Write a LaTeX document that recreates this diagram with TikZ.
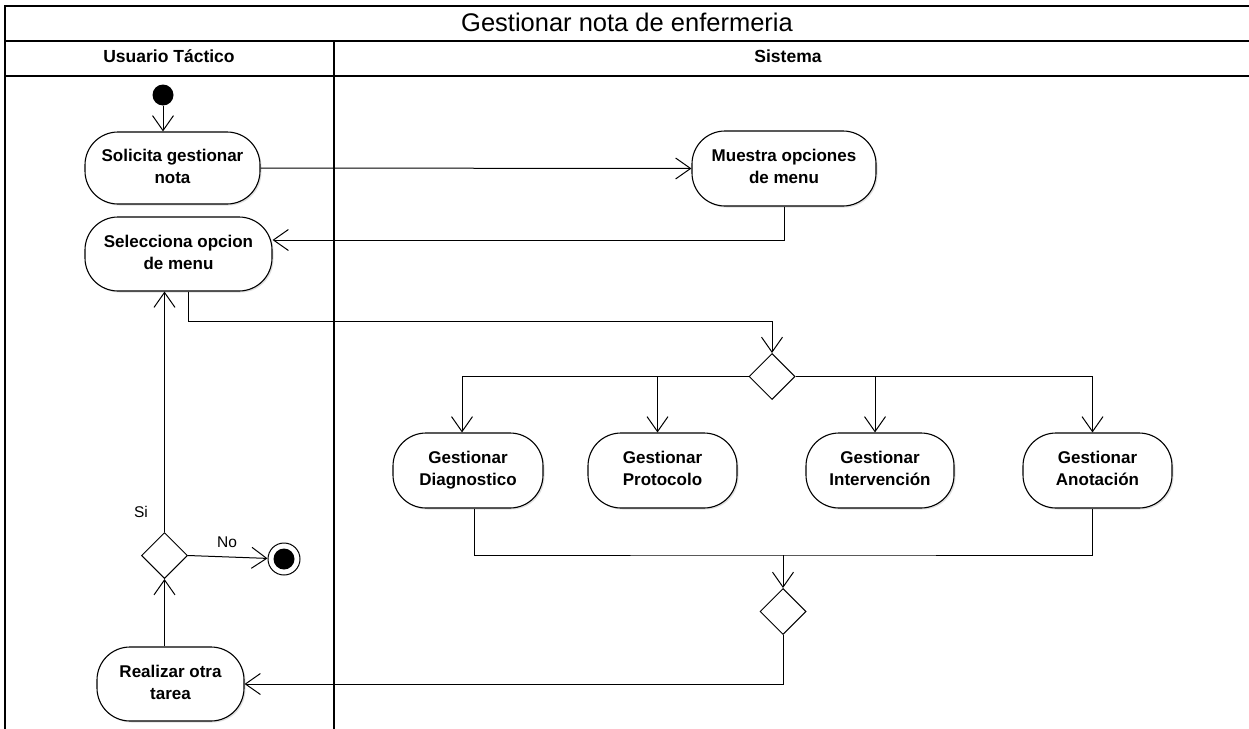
\documentclass[tikz,border=0pt]{standalone}
\usepackage{fontspec}
\setmainfont{Liberation Sans}
\usetikzlibrary{arrows.meta,shapes.geometric,calc,shadows}
\begin{document}
\begin{tikzpicture}[x=1pt,y=-1pt,
  act/.style={draw, line width=1.1pt, rounded corners=33pt, fill=white, align=center,
    inner sep=0pt, font=\fontsize{17}{22}\selectfont\bfseries,
    drop shadow={shadow xshift=1.5pt,shadow yshift=-1.5pt,opacity=0.25}},
  dec/.style={draw, diamond, line width=1pt, fill=white, minimum width=46pt, minimum height=46pt, inner sep=0pt},
  arr/.style={line width=1pt, -{Straight Barb[length=15pt,width=21pt]}},
  ln/.style={line width=1pt},
  lbl/.style={font=\fontsize{15.5}{18}\selectfont},
  hdr/.style={font=\fontsize{17.5}{20}\selectfont\bfseries},
  frame/.style={line width=1.6pt}
]
\useasboundingbox (0,0) rectangle (1249,728);
\clip (0,0) rectangle (1249,728);
\fill[white] (0,0) rectangle (1249,728);

% frame and swimlanes
\draw[frame] (1260,6) -- (5,6) -- (5,740);
\draw[line width=2.6pt] (5,41) -- (1260,41);
\draw[frame] (5,76) -- (1260,76);
\draw[frame] (334,41) -- (334,740);

\node[font=\fontsize{25.5}{30}\selectfont, anchor=base] (title) at (627,31) {Gestionar nota de enfermeria};
\node[hdr, anchor=base] (lane1) at (169,62) {Usuario Táctico};
\node[hdr, anchor=base] (lane2) at (788,62) {Sistema};

% nodes
\node[circle, fill=black, minimum size=21pt, inner sep=0pt] (start) at (163,95) {};
\node[act, minimum width=175pt, minimum height=72pt] (sol) at (172.5,168) {\strut Solicita gestionar\\\strut nota};
\node[act, minimum width=184pt, minimum height=75pt] (mue) at (784,168.5) {\strut Muestra opciones\\\strut de menu};
\node[act, minimum width=187pt, minimum height=74pt] (sel) at (178.5,254) {\strut Selecciona opcion\\\strut de menu};
\node[dec] (d1) at (772,376.5) {};
\node[act, minimum width=150pt, minimum height=75pt] (diag) at (468,470.5) {\strut Gestionar\\\strut Diagnostico};
\node[act, minimum width=149pt, minimum height=75pt] (proto) at (662.5,470.5) {\strut Gestionar\\\strut Protocolo};
\node[act, minimum width=148pt, minimum height=75pt] (interv) at (880,470.5) {\strut Gestionar\\\strut Intervención};
\node[act, minimum width=149pt, minimum height=75pt] (anot) at (1097.5,470.5) {\strut Gestionar\\\strut Anotación};
\node[dec] (d2) at (783,611.5) {};
\node[act, minimum width=147pt, minimum height=74pt] (real) at (170.5,684) {\strut Realizar otra\\\strut tarea};
\node[dec] (d3) at (164.5,555.5) {};
\node[circle, draw, line width=1pt, fill=white, minimum size=32pt, inner sep=0pt] (fin) at (284,559) {};
\fill (fin.center) circle (10.5);

\node[lbl] (si) at (141,512) {Si};
\node[lbl] (no) at (227,542) {No};

% connectors
\draw[arr] (start) -- (start |- sol.north);
\draw[arr] (sol.east) -- (mue.west);
\draw[arr] (mue.south) |- ($(sel.east)+(0,-14)$);
\coordinate (selout) at ($(sel.south)+(10,0)$);
\draw[arr] (selout) -- ++(0,30) -| (d1.north);
\draw[arr] (d1.west) -| ($(diag.north)+(-6,0)$);
\draw[arr] ($(d1.west)+(-90,0)$) -| ($(proto.north)+(-5,0)$);
\draw[arr] (d1.east) -| ($(anot.north)+(-5,0)$);
\draw[arr] ($(d1.east)+(80,0)$) -| ($(interv.north)+(-5,0)$);

\coordinate (mrg) at ($(d2.north)+(0,-33)$);
\draw[ln] ($(diag.south)+(6,0)$) |- (mrg) -| ($(anot.south)+(-5,0)$);
\draw[ln] ($(proto.south)+(-5,0)$) -- ($(proto.south)+(-5,0)$ |- mrg);
\draw[ln] ($(interv.south)+(-5,0)$) -- ($(interv.south)+(-5,0)$ |- mrg);
\draw[arr] (mrg) -- (d2.north);
\draw[arr] (d2.south) |- (real.east);
\draw[arr] (d3.south |- real.north) -- (d3.south);
\draw[arr] (d3.north) -- (d3.north |- sel.south);
\draw[arr] (d3.east) -- (fin);
\end{tikzpicture}
\end{document}
